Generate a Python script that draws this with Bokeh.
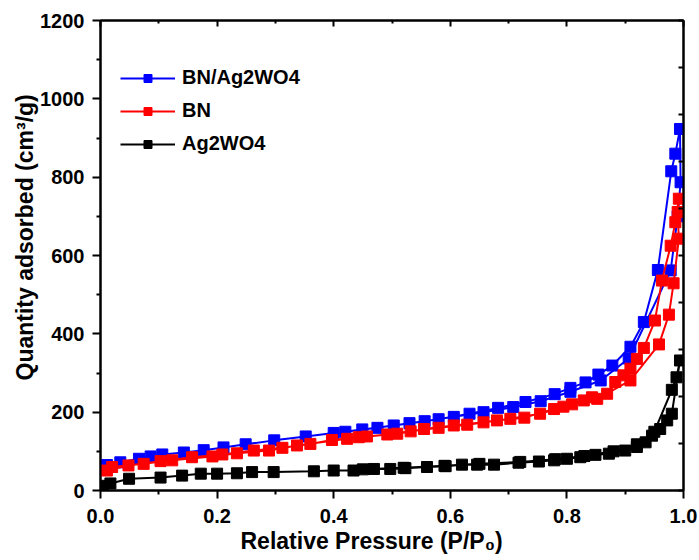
from bokeh.plotting import figure
from bokeh.models import (Range1d, FixedTicker, LinearAxis, Legend, LegendItem,
                          NumeralTickFormatter, CustomJSTickFormatter, Title)
from bokeh.embed import file_html
from bokeh.resources import INLINE

# ---------------- data ----------------
blue_ads_x = [0.011, 0.034, 0.066, 0.086, 0.106, 0.143, 0.177, 0.211, 0.249, 0.298, 0.352, 0.400,
              0.449, 0.503, 0.556, 0.606, 0.657, 0.708, 0.755, 0.806, 0.858, 0.906, 0.978, 0.990,
              0.995, 0.994]
blue_ads_y = [65, 72, 81, 87, 92, 97, 103, 110, 118, 128, 138, 147,
              156, 166, 177, 188, 200, 213, 228, 252, 281, 337, 562, 700,
              787, 923]
blue_des_x = [0.986, 0.979, 0.956, 0.932, 0.909, 0.878, 0.854, 0.832, 0.806, 0.779, 0.729, 0.682,
              0.633, 0.580, 0.530, 0.475, 0.420]
blue_des_y = [860, 815, 563, 430, 367, 319, 296, 276, 262, 246, 226, 211,
              196, 182, 172, 160, 150]

red_ads_x = [0.011, 0.048, 0.103, 0.157, 0.209, 0.263, 0.312, 0.360, 0.397, 0.443, 0.492, 0.532,
             0.580, 0.629, 0.680, 0.727, 0.778, 0.809, 0.852, 0.909, 0.958, 0.975, 0.983, 0.992,
             0.990, 0.992]
red_ads_y = [51, 64, 75, 85, 92, 102, 109, 119, 129, 136, 143, 151,
             160, 168, 179, 186, 208, 220, 234, 281, 373, 449, 529, 643,
             711, 745]
red_des_x = [0.986, 0.978, 0.963, 0.951, 0.932, 0.920, 0.909, 0.897, 0.883, 0.869, 0.843, 0.829,
             0.794, 0.754, 0.703, 0.657, 0.606, 0.555, 0.509, 0.457, 0.423, 0.337, 0.289, 0.234,
             0.192, 0.123, 0.074, 0.020]
red_des_y = [685, 625, 536, 434, 364, 336, 311, 294, 277, 247, 238, 230,
             214, 196, 183, 174, 166, 157, 145, 138, 132, 115, 102, 95,
             87, 77, 68, 60]

black_ads_x = [0.004, 0.017, 0.049, 0.103, 0.140, 0.172, 0.200, 0.234, 0.260, 0.297, 0.366, 0.400,
               0.434, 0.469, 0.497, 0.523, 0.560, 0.592, 0.620, 0.646, 0.675, 0.717, 0.752, 0.778,
               0.800, 0.823, 0.849, 0.872, 0.900, 0.920, 0.935, 0.946, 0.960, 0.972, 0.980, 0.994]
black_ads_y = [12, 18, 30, 33, 38, 43, 43, 44, 47, 47, 49, 51,
               51, 55, 55, 57, 60, 62, 66, 66, 66, 71, 74, 77,
               81, 85, 91, 94, 102, 111, 123, 140, 157, 179, 196, 332]
black_des_x = [0.988, 0.980, 0.950, 0.920, 0.880, 0.830, 0.780, 0.720, 0.650, 0.590, 0.520, 0.450]
black_des_y = [289, 257, 150, 118, 100, 88, 80, 73, 68, 63, 58, 54]

series_labels = ["BN/Ag2WO4", "BN", "Ag2WO4"]
series_colors = ["#0000FF", "#FF0000", "#000000"]

x_major = [0.0, 0.2, 0.4, 0.6, 0.8, 1.0]
x_minor = [0.1, 0.3, 0.5, 0.7, 0.9]
y_major = [0, 200, 400, 600, 800, 1000, 1200]
y_minor = [100, 300, 500, 700, 900, 1100]
y_right = [0, 120, 240, 360, 480, 600, 720, 840, 960, 1080, 1200]

x_title = "Relative Pressure (P/P\u2080)"
y_title = "Quantity adsorbed (cm\u00b3/g)"

FONT = "Liberation Sans"

p = figure(width=699, height=560, x_range=Range1d(0, 1.0), y_range=Range1d(0, 1200),
           output_backend="svg", toolbar_location=None,
           min_border_left=100, min_border_right=16, min_border_top=20, min_border_bottom=70)
p.grid.visible = False
p.outline_line_color = "black"
p.outline_line_width = 2
p.background_fill_color = "white"
p.border_fill_color = "white"

xa = p.xaxis[0]
xa.ticker = FixedTicker(ticks=x_major, minor_ticks=x_minor)
xa.formatter = NumeralTickFormatter(format="0.0")
ya = p.yaxis[0]
ya.ticker = FixedTicker(ticks=y_major, minor_ticks=y_minor)

for ax in (xa, ya):
    ax.axis_line_width = 2
    ax.major_tick_line_width = 2
    ax.minor_tick_line_width = 2
    ax.major_tick_in = 0
    ax.major_tick_out = 8
    ax.minor_tick_in = 0
    ax.minor_tick_out = 4
    ax.major_label_text_font = FONT
    ax.major_label_text_font_style = "bold"
    ax.major_label_text_font_size = "20px"
    ax.major_label_text_color = "black"
xa.major_label_standoff = 10
ya.major_label_standoff = 8

blank = CustomJSTickFormatter(code="return ''")
top = LinearAxis(ticker=FixedTicker(ticks=x_major, minor_ticks=x_minor), formatter=blank,
                 major_tick_in=6, major_tick_out=0,
                 minor_tick_in=3, minor_tick_out=0, axis_line_width=2,
                 major_tick_line_width=2, minor_tick_line_width=2, major_label_standoff=0)
p.add_layout(top, "above")
right = LinearAxis(ticker=FixedTicker(ticks=y_right, minor_ticks=[]), formatter=blank,
                   major_tick_in=5, major_tick_out=0,
                   minor_tick_in=0, minor_tick_out=0, axis_line_width=2,
                   major_tick_line_width=2, major_label_standoff=0)
p.add_layout(right, "right")

# axis titles as side titles so they can be nudged like the original
p.add_layout(Title(text=x_title, align="left", offset=140, standoff=0,
                   text_font=FONT, text_font_style="bold", text_font_size="23px",
                   text_color="black"), "below")
p.add_layout(Title(text=y_title, align="left", offset=110, standoff=0,
                   text_font=FONT, text_font_style="bold", text_font_size="23px",
                   text_color="black"), "left")

data = [
    (blue_ads_x, blue_ads_y, blue_des_x, blue_des_y),
    (red_ads_x, red_ads_y, red_des_x, red_des_y),
    (black_ads_x, black_ads_y, black_des_x, black_des_y),
]

items = []
for (ax_, ay_, dx_, dy_), lab, col in zip(data, series_labels, series_colors):
    xs = ax_ + dx_
    ys = ay_ + dy_
    lr = p.line(xs, ys, line_color=col, line_width=2)
    sr = p.scatter(xs, ys, marker="square", size=11, fill_color=col, line_color=col)
    items.append(LegendItem(label=lab, renderers=[lr, sr]))

legend = Legend(items=items, location=(20, 335), orientation="vertical",
                label_text_font=FONT, label_text_font_style="bold", label_text_font_size="20px",
                label_text_color="black", glyph_width=55, glyph_height=20, label_height=20,
                label_standoff=7, spacing=10, padding=0, margin=0,
                border_line_color=None, background_fill_alpha=0)
p.add_layout(legend, "center")

open("out.html", "w").write(file_html(p, INLINE))
